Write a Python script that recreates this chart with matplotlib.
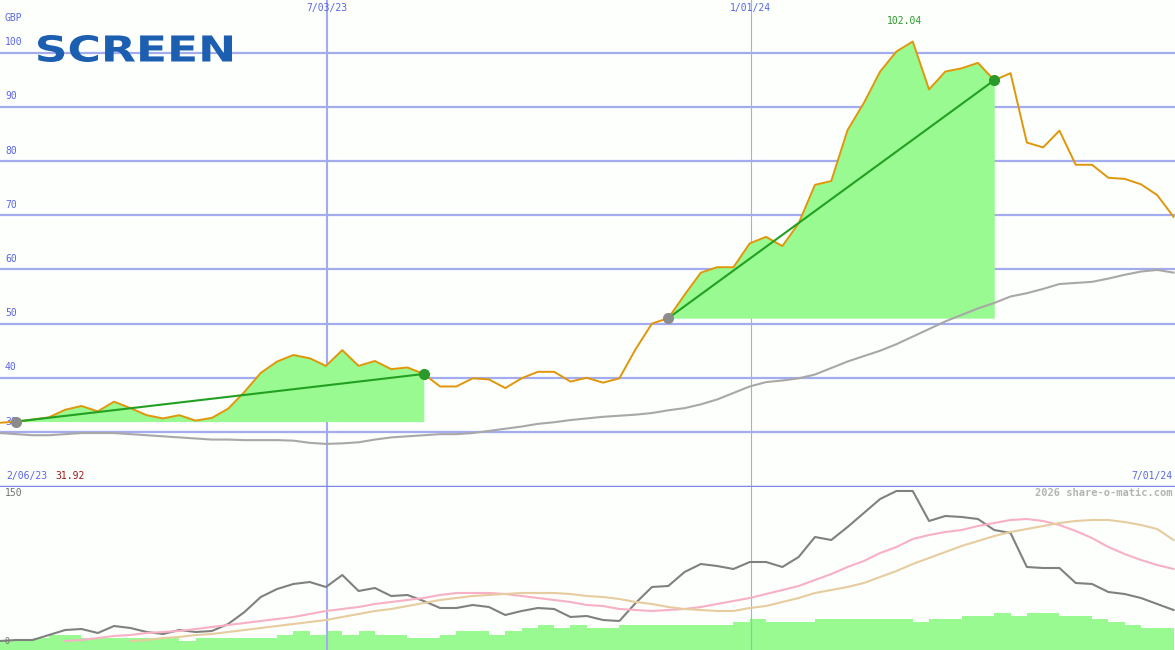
import numpy as np
import matplotlib.pyplot as plt
from matplotlib.textpath import TextPath
from matplotlib.patches import PathPatch
from matplotlib.font_manager import FontProperties
from matplotlib.transforms import Affine2D

# weekly closes, 2/06/23 .. 7/01/24 (GBP)
price = [31.7, 31.92, 32.3, 32.7, 34.1, 34.8, 33.8, 35.6, 34.4, 33.1, 32.5, 33.1, 32.1, 32.6,
         34.3, 37.4, 40.9, 43.0, 44.2, 43.6, 42.2, 45.1, 42.2, 43.1, 41.6, 41.9, 40.7, 38.4,
         38.4, 39.9, 39.7, 38.1, 39.9, 41.1, 41.1, 39.3, 40.0, 39.1, 39.9, 45.3, 50.0, 51.0,
         55.3, 59.4, 60.4, 60.4, 64.8, 66.0, 64.3, 68.5, 75.6, 76.3, 85.7, 90.7, 96.5, 100.2,
         102.04, 93.2, 96.5, 97.1, 98.1, 94.9, 96.2, 83.4, 82.5, 85.6, 79.3, 79.3, 76.9, 76.7,
         75.7, 73.7, 69.7]
ma_long = [29.8, 29.6, 29.4, 29.4, 29.6, 29.8, 29.8, 29.8, 29.6, 29.4, 29.2, 29.0, 28.8, 28.6,
           28.6, 28.5, 28.5, 28.5, 28.4, 28.0, 27.8, 27.9, 28.1, 28.6, 29.0, 29.2, 29.4, 29.6,
           29.6, 29.8, 30.2, 30.6, 31.0, 31.5, 31.8, 32.2, 32.5, 32.8, 33.0, 33.2, 33.5, 34.0,
           34.4, 35.1, 36.0, 37.2, 38.4, 39.2, 39.5, 39.9, 40.6, 41.8, 43.0, 44.0, 45.0, 46.2,
           47.6, 49.0, 50.4, 51.6, 52.8, 53.8, 55.0, 55.6, 56.4, 57.3, 57.5, 57.7, 58.3, 59.0,
           59.6, 59.9, 59.4]
momentum = [0, 1, 1, 6, 11, 12, 8, 15, 13, 9, 7, 11, 9, 10, 17, 29, 44, 52, 57, 59, 54, 66, 50,
            53, 45, 46, 40, 33, 33, 36, 34, 26, 30, 33, 32, 24, 25, 21, 20, 38, 54, 55, 69, 77,
            75, 72, 79, 79, 74, 84, 104, 101, 114, 128, 142, 150, 150, 120, 125, 124, 122, 111,
            108, 74, 73, 73, 58, 57, 49, 47, 43, 37, 31]
avg_fast = [np.nan] * 4 + [0, 1, 3, 5, 6, 8, 9, 10, 12, 14, 16, 18, 20, 22, 24, 27, 30, 32, 34,
            37, 39, 41, 43, 46, 48, 48, 48, 47, 45, 43, 41, 39, 36, 35, 32, 31, 30, 31, 32, 34,
            37, 40, 43, 47, 51, 55, 61, 67, 74, 80, 88, 94, 102, 106, 109, 111, 115, 118, 121,
            122, 120, 116, 110, 103, 94, 87, 81, 76, 72]
avg_slow = [np.nan] * 8 + [0, 1, 3, 4, 6, 7, 9, 11, 13, 15, 17, 19, 21, 24, 27, 30, 32, 35, 38,
            41, 43, 45, 46, 47, 48, 48, 48, 47, 45, 44, 42, 39, 37, 34, 32, 31, 30, 30, 33, 35,
            39, 43, 48, 51, 54, 58, 64, 70, 77, 83, 89, 95, 100, 105, 109, 112, 115, 118, 120,
            121, 121, 119, 116, 112, 101]
volume = [10, 10, 12, 15, 15, 12, 12, 12, 12, 12, 12, 9, 12, 12, 12, 12, 12, 15, 19, 15, 19, 15,
          19, 15, 15, 12, 12, 15, 19, 19, 15, 19, 22, 25, 22, 25, 22, 22, 25, 25, 25, 25, 25, 25,
          25, 28, 31, 28, 28, 28, 31, 31, 31, 31, 31, 31, 28, 31, 31, 34, 34, 37, 34, 37, 37, 34,
          34, 31, 28, 25, 22, 22]
date_marks = {'7/03/23': 20.06, '1/01/24': 46.07}
gains = [(1, 26), (41, 61)]

weeks = np.arange(len(price))
price = np.array(price)
blue_grid = '#a4acf0'
label_blue = '#5a64e6'
bg = '#fcfffc'
mono = 'DejaVu Sans Mono'

fig = plt.figure(figsize=(11.75, 6.5), dpi=100, facecolor=bg)
ax = fig.add_axes([0, 163 / 650, 1, 487 / 650], facecolor=bg)
ax2 = fig.add_axes([0, 0, 1, 163 / 650], facecolor=bg)
axv = ax2.twinx()

xmax = 72.09
for a in (ax, ax2, axv):
    a.set_xlim(0, xmax)
    a.axis('off')
ax.set_ylim(19.85, 109.7)
ax2.set_ylim(-9, 154)
axv.set_ylim(0, 163)
axv.set_zorder(0)
ax2.set_zorder(1)
ax2.patch.set_visible(False)

# grid
for v in range(30, 101, 10):
    ax.axhline(v, color=blue_grid, lw=1.6, zorder=1)
    ax.text(0.3, v + 1.0, str(v), color=label_blue, fontsize=7, family=mono, va='bottom')
ax.text(0.3, 105.8, 'GBP', color=label_blue, fontsize=7, family=mono)
for lbl, x in date_marks.items():
    lw = 1.5 if lbl == '7/03/23' else 0.8
    for a in (ax, ax2):
        a.axvline(x, color=blue_grid, lw=lw, zorder=1)
    ax.text(x, 108.2, lbl, color=label_blue, fontsize=7, family=mono, ha='center', va='center')
ax.axhline(19.85, color='#7a86ea', lw=2.5, zorder=5)

# gain areas
for s, e in gains:
    xs = weeks[s:e + 1]
    ys = price[s:e + 1]
    ax.fill_between(xs, price[s], ys, where=ys >= price[s], interpolate=True,
                    color='#98fa90', lw=0, zorder=2)
    ax.plot([s, e], [price[s], price[e]], color='#22a022', lw=1.5, zorder=4)
    ax.plot(s, price[s], 'o', color='#8c8c8c', ms=7, zorder=5)
    ax.plot(e, price[e], 'o', color='#2a9a2a', ms=7, zorder=5)

ax.plot(weeks, ma_long, color='#a8a8a8', lw=1.5, zorder=3)
ax.plot(weeks, price, color='#e0960a', lw=1.4, zorder=3)
imax = int(np.argmax(price))
ax.text(imax - 0.5, price[imax] + 3.2, f'{price[imax]:.2f}', color='#2a9a2a', fontsize=7,
        family=mono, ha='center')

# logo, stretched wide in pixel space
tp = TextPath((0, 0), 'SCREEN', size=37, prop=FontProperties(family='DejaVu Sans', weight='bold'))
ext = tp.get_extents()
sx = 194 / ext.width
sy = 27 / ext.height
logo_tf = Affine2D().translate(-ext.x0, -ext.y0).scale(sx, sy).translate(38, 650 - 62)
fig.patches.append(PathPatch(logo_tf.transform_path(tp), color='#1c5eb0', lw=0,
                             transform=None, figure=fig))

# lower panel
axv.bar(weeks[:-1], volume, width=1.0, align='edge', color='#98fa90', lw=0)
ax2.plot(weeks, momentum, color='#808080', lw=1.5)
ax2.plot(weeks, avg_fast, color='#f8b0c4', lw=1.5)
ax2.plot(weeks, avg_slow, color='#e6cc9e', lw=1.5)
ax2.text(0.3, 148, '150', color='#707070', fontsize=7, family=mono, va='center')
ax2.text(0.3, 0, '0', color='#707070', fontsize=6, family=mono, va='center')
ax2.text(xmax - 0.15, 148, '2026 share-o-matic.com', color='#b4b4b4', fontsize=7.5,
         fontweight='bold', family=mono, ha='right', va='center')
ax.text(0.4, 21.8, '2/06/23', color=label_blue, fontsize=7, family=mono, va='center')
ax.text(3.4, 21.8, f'{price[1]:.2f}', color='#a01818', fontsize=7, family=mono, va='center')
ax.text(xmax - 0.15, 21.8, '7/01/24', color=label_blue, fontsize=7, family=mono,
        ha='right', va='center')

fig.savefig('out.png', dpi=100, facecolor=bg)
